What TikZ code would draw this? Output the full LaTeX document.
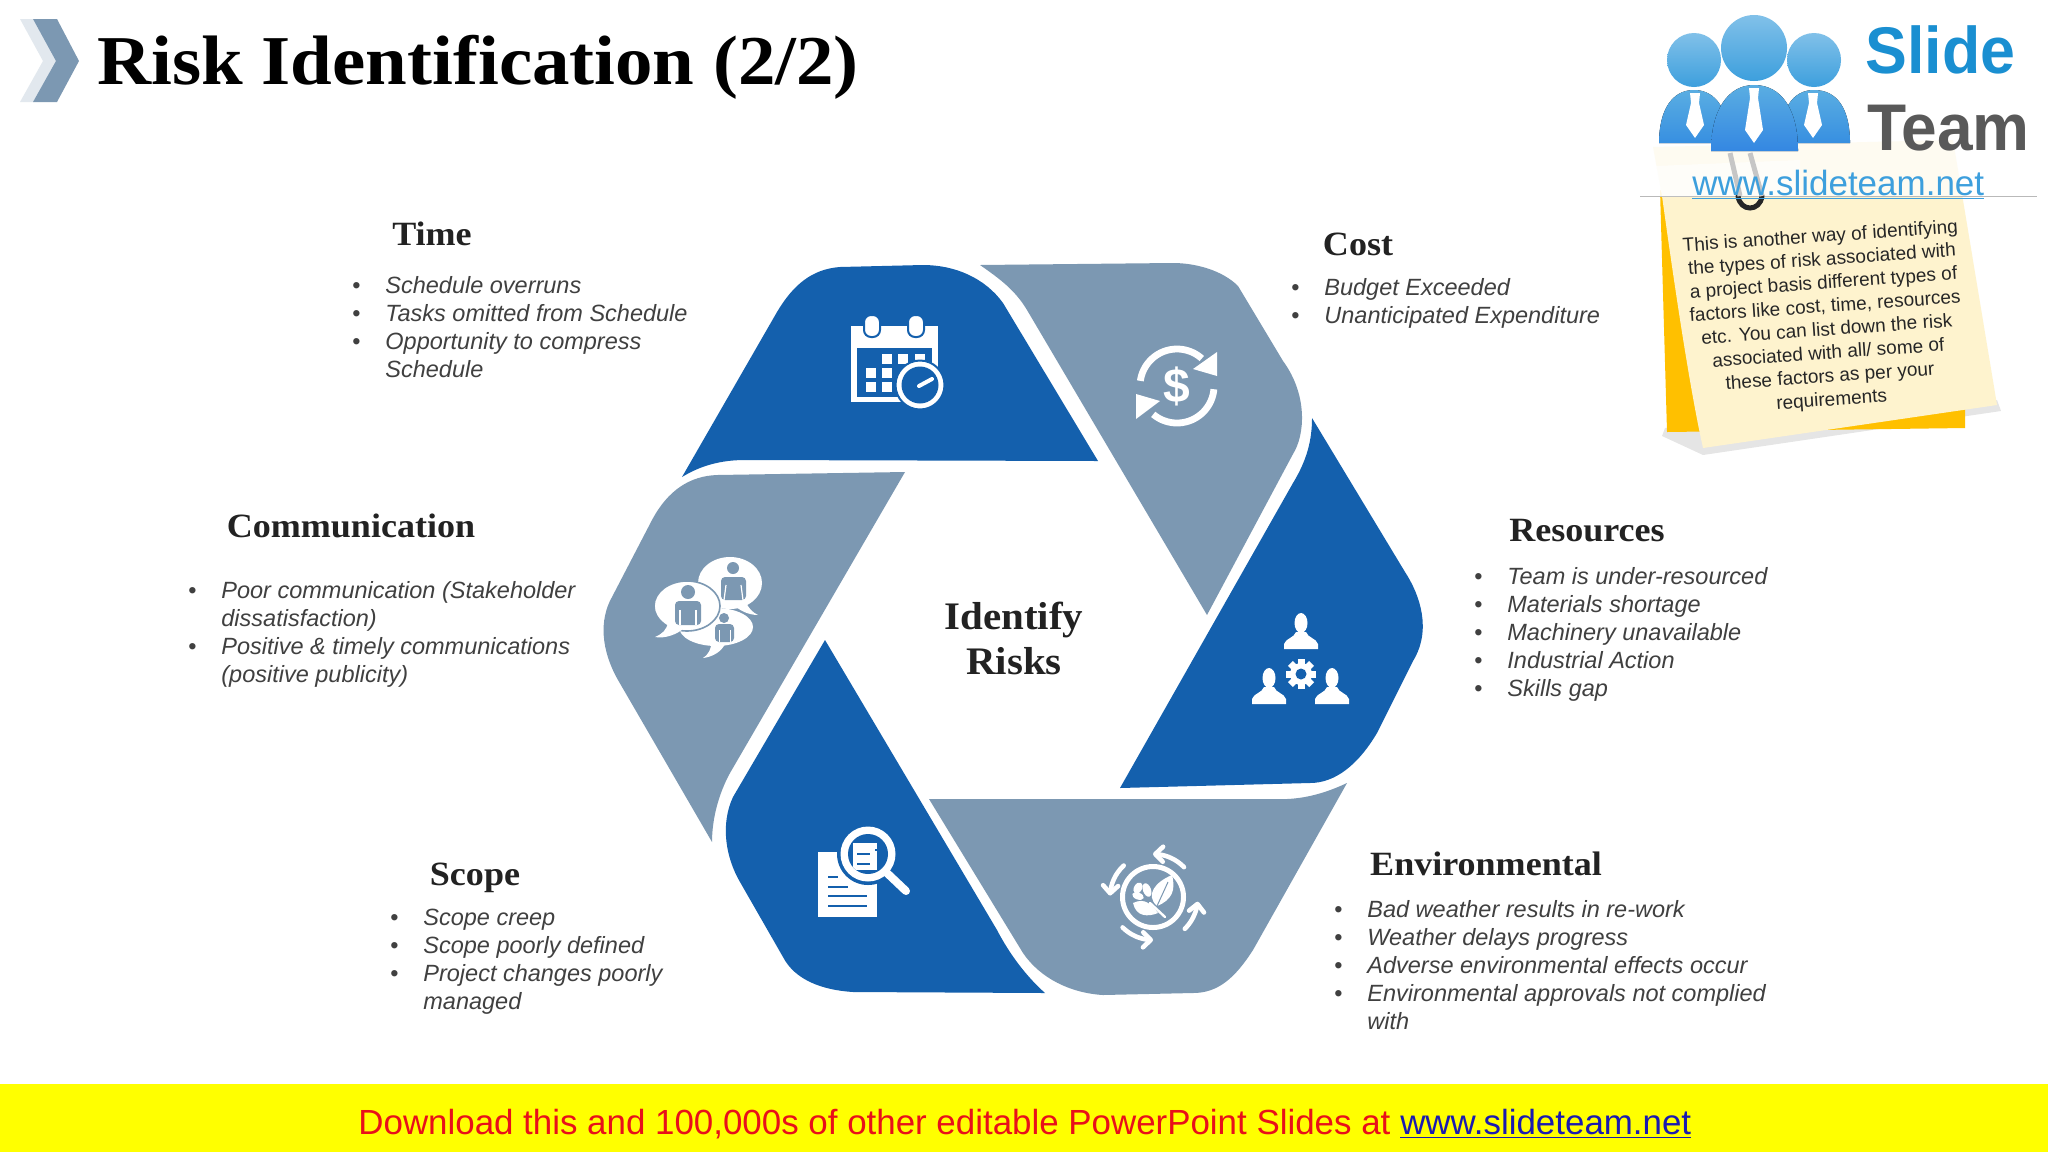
\documentclass[tikz,border=0pt]{standalone}
\usepackage{fontspec}
\setmainfont{Liberation Serif}
\setsansfont{Liberation Sans}
\usetikzlibrary{arrows.meta}
\definecolor{rblue}{HTML}{1460AD}
\definecolor{rgray}{HTML}{7C98B2}
\definecolor{bodytxt}{HTML}{404040}
\definecolor{headtxt}{HTML}{222222}
\definecolor{notecream}{HTML}{FEF3CE}
\definecolor{noteorange}{HTML}{FFC000}
\definecolor{logoblue}{HTML}{3D9FDD}
\definecolor{logotext}{HTML}{1A8FD1}
\definecolor{banneryellow}{HTML}{FFFF00}
\definecolor{bannerred}{HTML}{E8101A}
\definecolor{bannerblue}{HTML}{1A1AB0}
\newcommand{\itm}[1]{\makebox[16.5pt][l]{\rule{0pt}{10pt}\upshape\textbullet}#1}
\newcommand{\cont}[1]{\hspace*{16.5pt}#1}
\tikzset{
  blist/.style={anchor=north west,inner sep=0pt,align=left,text=bodytxt,
    font=\sffamily\itshape\fontsize{11.75}{14.05}\selectfont},
  headlab/.style={inner sep=0pt,text=headtxt,xscale=1.06,font=\bfseries\fontsize{17}{20}\selectfont},
  petalblue/.style={fill=rblue},
  petalgray/.style={fill=rgray},
  personicon/.pic={
    \fill[white] (0,-26) ellipse [x radius=6.5,y radius=10];
    \fill[white] (-17,0) -- (-17,-5) .. controls (-15,-11) and (-7,-11) .. (-5,-17)
       -- (5,-17) .. controls (7,-11) and (15,-11) .. (17,-5) -- (17,0) -- cycle;
  },
  leafarrow/.style={white,line width=2.3pt,line cap=round,
    -{Straight Barb[length=3.8pt,width=7.5pt,round]}},
  arcarrow/.style={white,line width=3.4pt},
}
\begin{document}
\begin{tikzpicture}[x=0.5pt,y=-0.5pt]
\useasboundingbox (0,0) rectangle (2048,1152);
\fill[white] (0,0) rectangle (2048,1152);

% title
\fill[rgray!22] (20,19) -- (33,19) -- (57,61) -- (33,102) -- (20,102) -- (43,61) -- cycle;
\fill[rgray] (33,19) -- (57,19) -- (79,61) -- (57,102) -- (33,102) -- (56,61) -- cycle;
\node[anchor=base west,inner sep=0pt,xscale=1.07,font=\bfseries\fontsize{35}{40}\selectfont] (title) at (97,84) {Risk Identification (2/2)};

% petals
\fill[petalblue] (682,477) .. controls (700,466) and (720,460) .. (745,460) -- (1098,461) -- (1003,303)
  .. controls (985,278) and (955,265) .. (923,265) -- (840,267)
  .. controls (812,269) and (793,285) .. (777,312) -- cycle;
\fill[petalgray] (980,265) .. controls (1000,279) and (1015,290) .. (1027,310) -- (1207,615) -- (1293,454)
  .. controls (1305,435) and (1308,395) .. (1283,361) -- (1238,286)
  .. controls (1222,270) and (1195,263) .. (1173,263) -- cycle;
\fill[petalblue] (1312,418) -- (1405,572) .. controls (1420,595) and (1432,630) .. (1413,661) -- (1377,733)
  .. controls (1358,765) and (1335,783) .. (1310,783) -- (1120,788) -- (1293,483)
  .. controls (1307,460) and (1312,440) .. (1312,418) -- cycle;
\fill[petalgray] (929,799) -- (1287,799) .. controls (1310,798) and (1330,791) .. (1347,783) -- (1253,950)
  .. controls (1235,978) and (1218,993) .. (1193,993) -- (1103,995)
  .. controls (1070,993) and (1040,978) .. (1023,953) -- cycle;
\fill[petalblue] (825,640) -- (997,930) .. controls (1010,955) and (1027,977) .. (1045,993) -- (853,992)
  .. controls (822,990) and (795,980) .. (783,957) -- (740,882)
  .. controls (726,858) and (720,825) .. (733,797) -- cycle;
\fill[petalgray] (905,472) -- (717,475) .. controls (690,476) and (668,490) .. (652,520) -- (612,597)
  .. controls (599,620) and (601,650) .. (618,680) -- (712,842)
  .. controls (712,820) and (718,795) .. (730,773) -- cycle;

% centre
\node[inner sep=0pt,align=center,text=headtxt,xscale=1.05,font=\bfseries\fontsize{19.5}{22.5}\selectfont] (centre) at (1014,638) {Identify\\Risks};

% calendar icon
\fill[white] (851,326) rectangle (938,402);
\fill[rblue] (857,348) rectangle (932,397);
\foreach \x in {872,916}{
  \fill[white,draw=rblue,line width=1pt,rounded corners=3.5pt] (\x-8,315) rectangle (\x+8,337);
}
\foreach \x/\y in {882/354,898/354,915/354,866/368,882/368,866/382,882/382}{
  \fill[white] (\x,\y) rectangle +(9.5,9.5);
}
\fill[white,draw=rblue,line width=1pt] (920,385) circle [radius=24.5];
\fill[rblue] (920,385) circle [radius=18.5];
\draw[white,line width=2pt,line cap=round] (919,386) -- (932,379);

% cost icon
\draw[arcarrow] plot[domain=-172:-48,samples=40,smooth] ({1177+37*cos(\x)},{386+37*sin(\x)});
\fill[white] (1217,352) -- (1217,376) -- (1193,369) -- cycle;
\draw[arcarrow] plot[domain=5:130,samples=40,smooth] ({1177+37*cos(\x)},{386+37*sin(\x)});
\fill[white] (1136,394) -- (1136,419) -- (1160,401) -- cycle;
\node[inner sep=0pt,text=white,font=\sffamily\bfseries\fontsize{24}{26}\selectfont] (dollar) at (1177,386) {\$};

% resources icon
\pic at (1301,649) {personicon};
\pic at (1269,704) {personicon};
\pic at (1332,704) {personicon};
\foreach \a in {0,45,...,315}{
  \fill[white,rotate around={\a:(1301,674)}] (1297.5,659) rectangle (1304.5,667);
}
\fill[white] (1301,674) circle [radius=11];
\fill[rblue] (1301,674) circle [radius=5.5];

% environment icon
\draw[white,line width=2.5pt] (1153,897) circle [radius=30.5];
\draw[leafarrow] plot[domain=-44:-90,samples=12,smooth] ({1153+43*cos(\x)},{897+43*sin(\x)});
\draw[leafarrow] plot[domain=-133:-178,samples=12,smooth] ({1153+43*cos(\x)},{897+43*sin(\x)});
\draw[leafarrow] plot[domain=135:90,samples=12,smooth] ({1153+43*cos(\x)},{897+43*sin(\x)});
\draw[leafarrow] plot[domain=45:6,samples=12,smooth] ({1153+45*cos(\x)},{897+45*sin(\x)});
\fill[white] (1157,906) .. controls (1145,895) and (1155,882) .. (1172,875) .. controls (1176,890) and (1172,900) .. (1157,906) -- cycle;
\fill[white] (1133,903) .. controls (1145,897) and (1152,905) .. (1158,913) .. controls (1148,917) and (1136,917) .. (1133,903) -- cycle;
\fill[white,rotate around={20:(1147,890)}] (1147,890) ellipse [x radius=4,y radius=7];
\fill[white,rotate around={-30:(1138,888)}] (1138,888) ellipse [x radius=4,y radius=6];
\fill[white,rotate around={70:(1138,896)}] (1138,896) ellipse [x radius=3.5,y radius=6];
\draw[white,line width=1.2pt,line cap=round] (1150,903) -- (1165,917);
\draw[rgray,line width=0.5pt] (1168,882) -- (1157,906);

% scope icon
\fill[white] (818,852) rectangle (877,917);
\foreach \y/\a/\b in {877/828/838,887/828/848,896/828/867,906/828/867}{
  \draw[rblue,line width=1.1pt] (\a,\y) -- (\b,\y);
}
\fill[rblue] (868,854) circle [radius=31];
\fill[white] (868,854) circle [radius=27.5];
\fill[rblue] (868,854) circle [radius=20];
\begin{scope}
  \clip (868,854) circle [radius=20];
  \fill[white] (853,843) rectangle (877,870);
\end{scope}
\foreach \y in {854,864}{\draw[rblue,line width=1.1pt] (857,\y) -- (870,\y);}
\draw[rblue,line width=1.1pt] (875,850) -- (880,850);
\draw[white,line width=4pt,line cap=round] (887,873) -- (906,891);

% communication icon
\fill[white] (730,583) ellipse [x radius=32,y radius=26];
\fill[white] (745,600) .. controls (748,608) and (752,612) .. (758,615) .. controls (748,615) and (738,610) .. (732,603) -- cycle;
\fill[white] (716,627) ellipse [x radius=37,y radius=19];
\fill[white] (712,640) .. controls (711,650) and (708,655) .. (703,658) .. controls (712,657) and (722,652) .. (726,642) -- cycle;
\fill[white,draw=rgray,line width=0.8pt] (687,606) ellipse [x radius=33,y radius=25];
\fill[white] (668,622) .. controls (667,630) and (662,634) .. (655,637) .. controls (665,639) and (678,634) .. (684,628) -- cycle;
\fill[rgray] (733,568) circle [radius=6];
\fill[rgray,rounded corners=2pt] (721,577) rectangle (746,600);
\draw[white,line width=0.6pt] (726,585) -- (724,600) (741,585) -- (743,600);
\fill[rgray] (688,592) circle [radius=7];
\fill[rgray,rounded corners=2pt] (675,601) rectangle (701,625);
\draw[white,line width=0.6pt] (680,610) -- (680,625) (696,610) -- (696,625);
\fill[rgray] (724,618) circle [radius=5];
\fill[rgray,rounded corners=2pt] (715,624) rectangle (734,642);
\draw[white,line width=0.5pt] (719,630) -- (719,642) (730,630) -- (730,642);

% labels
\node[headlab] (timeHead) at (432,234) {Time};
\node[blist] (timeList) at (352,273) {\itm{Schedule overruns}\\\itm{Tasks omitted from Schedule}\\\itm{Opportunity to compress}\\\cont{Schedule}};
\node[headlab] (costHead) at (1358,244) {Cost};
\node[blist] (costList) at (1291,275) {\itm{Budget Exceeded}\\\itm{Unanticipated Expenditure}};
\node[headlab] (resHead) at (1587,531) {Resources};
\node[blist] (resList) at (1474,564) {\itm{Team is under-resourced}\\\itm{Materials shortage}\\\itm{Machinery unavailable}\\\itm{Industrial Action}\\\itm{Skills gap}};
\node[headlab] (envHead) at (1486,864) {Environmental};
\node[blist] (envList) at (1334,897) {\itm{Bad weather results in re-work}\\\itm{Weather delays progress}\\\itm{Adverse environmental effects occur}\\\itm{Environmental approvals not complied}\\\cont{with}};
\node[headlab] (scopeHead) at (475,878) {Scope};
\node[blist] (scopeList) at (390,905) {\itm{Scope creep}\\\itm{Scope poorly defined}\\\itm{Project changes poorly}\\\cont{managed}};
\node[headlab] (commHead) at (351,526) {Communication};
\node[blist] (commList) at (188,578) {\itm{Poor communication (Stakeholder}\\\cont{dissatisfaction)}\\\itm{Positive \& timely communications}\\\cont{(positive publicity)}};

% sticky note
\fill[black,opacity=0.10] (1662,436) -- (1703,455) -- (2001,411) -- (1997,400) -- (1665,428) -- cycle;
\fill[noteorange] (1660,190) -- (1667,432) -- (1965,428) -- (1965,400) -- cycle;
\fill[notecream] (1653,147) -- (1953,140) -- (1997,405) -- (1703,448)
  .. controls (1690,390) and (1675,290) .. (1662,196) -- cycle;

% logo backdrop
\fill[white,opacity=0.72] (1640,0) rectangle (2037,196);
\draw[gray!55,line width=0.5pt] (1640,196) -- (2037,196);
\fill[white,opacity=0.6] (1656,166) -- (1800,160) -- (1800,196) -- (1660,196) -- cycle;

% paper clip
\draw[black!85,line width=2.5pt,line cap=round] (1738,196) .. controls (1740,212) and (1760,212) .. (1762,196);
\draw[gray!45,line width=2.5pt] (1730,153) -- (1740,196) (1750,153) -- (1762,196);

% logo
\fill[top color=logoblue!85!white,bottom color=logoblue!90!blue] (1659,143) .. controls (1659,110) and (1672,90) .. (1694,90) .. controls (1716,90) and (1729,110) .. (1729,143) -- cycle;
\fill[top color=logoblue!85!white,bottom color=logoblue!90!blue] (1780,143) .. controls (1780,110) and (1792,90) .. (1814,90) .. controls (1838,90) and (1850,110) .. (1850,143) -- cycle;
\fill[top color=logoblue!85!white,bottom color=logoblue!85!blue] (1711,151) .. controls (1711,110) and (1728,85) .. (1754,85) .. controls (1782,85) and (1798,110) .. (1798,151) -- cycle;
\shade[top color=logoblue!65!white,bottom color=logoblue] (1694,60) circle [radius=27];
\shade[top color=logoblue!65!white,bottom color=logoblue] (1814,60) circle [radius=27];
\shade[top color=logoblue!65!white,bottom color=logoblue] (1754,48) circle [radius=33];
\foreach \x/\t/\b in {1695/93/138,1754/88/143,1813/93/138}{
  \fill[white] (\x-5,\t) -- (\x+5,\t) -- (\x+4,\t+10) -- (\x+9,\b-13) -- (\x,\b) -- (\x-9,\b-13) -- (\x-4,\t+10) -- cycle;
}
\node[anchor=base west,inner sep=0pt,text=logotext,xscale=0.95,font=\sffamily\bfseries\fontsize{33}{36}\selectfont] (logoSlide) at (1865,73) {Slide};
\node[anchor=base west,inner sep=0pt,text=black!65,xscale=0.97,font=\sffamily\bfseries\fontsize{33}{36}\selectfont] (logoTeam) at (1867,150) {Team};
\node[anchor=base west,inner sep=0pt,text=logoblue,font=\sffamily\fontsize{17.5}{20}\selectfont] (logoUrl) at (1692,195) {\underline{www.slideteam.net}};

\node[inner sep=0pt,rotate=4,align=center,text=black!85,font=\sffamily\fontsize{9.5}{11.7}\selectfont] (noteText) at (1826,319) {This is another way of identifying\\the types of risk associated with\\a project basis different types of\\factors like cost, time, resources\\etc. You can list down the risk\\associated with all/ some of\\these factors as per your\\requirements};

% banner
\fill[banneryellow] (0,1084) rectangle (2048,1152);
\node[inner sep=0pt,anchor=base west,text=bannerred,font=\sffamily\fontsize{17.45}{20}\selectfont] (banner) at (358,1134) {Download this and 100,000s of other editable PowerPoint Slides at \textcolor{bannerblue}{\underline{www.slideteam.net}}};
\end{tikzpicture}
\end{document}
